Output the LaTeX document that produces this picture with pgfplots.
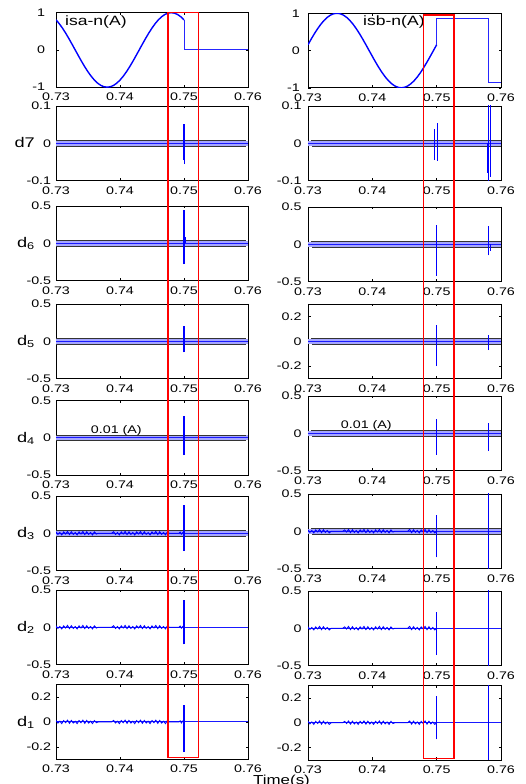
\documentclass[border=0pt]{standalone}
\usepackage{fontspec}
\setmainfont{Liberation Sans}[FakeStretch=1.3]
\usepackage{pgfplots}
\usepackage{pgfplotstable}
\pgfplotsset{compat=1.18}

% phase currents (first 20 ms window, sampled every 0.5 ms)
\pgfplotstableread[row sep=\\]{
t a b\\
0.7300 0.809 0.156\\ 0.7305 0.707 0.309\\ 0.7310 0.588 0.454\\ 0.7315 0.454 0.588\\
0.7320 0.309 0.707\\ 0.7325 0.156 0.809\\ 0.7330 0 0.891\\ 0.7335 -0.156 0.951\\
0.7340 -0.309 0.988\\ 0.7345 -0.454 1\\ 0.7350 -0.588 0.988\\ 0.7355 -0.707 0.951\\
0.7360 -0.809 0.891\\ 0.7365 -0.891 0.809\\ 0.7370 -0.951 0.707\\ 0.7375 -0.988 0.588\\
0.7380 -1 0.454\\ 0.7385 -0.988 0.309\\ 0.7390 -0.951 0.156\\ 0.7395 -0.891 0\\
0.7400 -0.809 -0.156\\ 0.7405 -0.707 -0.309\\ 0.7410 -0.588 -0.454\\ 0.7415 -0.454 -0.588\\
0.7420 -0.309 -0.707\\ 0.7425 -0.156 -0.809\\ 0.7430 0 -0.891\\ 0.7435 0.156 -0.951\\
0.7440 0.309 -0.988\\ 0.7445 0.454 -1\\ 0.7450 0.588 -0.988\\ 0.7455 0.707 -0.951\\
0.7460 0.809 -0.891\\ 0.7465 0.891 -0.809\\ 0.7470 0.951 -0.707\\ 0.7475 0.988 -0.588\\
0.7480 1 -0.454\\ 0.7485 0.988 -0.309\\ 0.7490 0.951 -0.156\\ 0.7495 0.891 0\\
0.7500 0.809 0.156\\
}\wave

% small detail noise, h = panels of +-0.5, s = panels of +-0.3
\pgfplotstableread[row sep=\\]{
t h s\\
0.7300 0.020 0.012\\ 0.7303 -0.015 -0.009\\ 0.7306 0.010 0.006\\ 0.7309 -0.022 -0.013\\
0.7312 0.018 0.011\\ 0.7315 -0.010 -0.006\\ 0.7318 0.024 0.014\\ 0.7321 -0.018 -0.011\\
0.7324 0.020 0.012\\ 0.7327 -0.015 -0.009\\ 0.7330 0.010 0.006\\ 0.7333 -0.022 -0.013\\
0.7336 0.018 0.011\\ 0.7339 -0.010 -0.006\\ 0.7342 0.024 0.014\\ 0.7345 -0.018 -0.011\\
0.7348 0.020 0.012\\ 0.7351 -0.015 -0.009\\ 0.7354 0.010 0.006\\ 0.7357 -0.022 -0.013\\
0.7360 0.018 0.011\\ 0.7363 -0.010 -0.006\\ 0.7366 0 0\\ 0.7387 0 0\\
0.7390 0.020 0.012\\ 0.7393 -0.015 -0.009\\ 0.7396 0.010 0.006\\ 0.7399 -0.022 -0.013\\
0.7402 0.018 0.011\\ 0.7405 -0.010 -0.006\\ 0.7408 0.024 0.014\\ 0.7411 -0.018 -0.011\\
0.7414 0.020 0.012\\ 0.7417 -0.015 -0.009\\ 0.7420 0.010 0.006\\ 0.7423 -0.022 -0.013\\
0.7426 0.018 0.011\\ 0.7429 -0.010 -0.006\\ 0.7432 0.024 0.014\\ 0.7435 -0.018 -0.011\\
0.7438 0.020 0.012\\ 0.7441 -0.015 -0.009\\ 0.7444 0.010 0.006\\ 0.7447 -0.022 -0.013\\
0.7450 0.018 0.011\\ 0.7453 -0.010 -0.006\\ 0.7456 0.024 0.014\\ 0.7459 -0.018 -0.011\\
0.7462 0.020 0.012\\ 0.7465 -0.015 -0.009\\ 0.7468 0.010 0.006\\ 0.7471 -0.022 -0.013\\
0.7474 0.018 0.011\\ 0.7477 0 0\\ 0.7492 0 0\\
0.7494 0.015 0.009\\ 0.7496 -0.012 -0.008\\ 0.7498 0.010 0.007\\ 0.7500 0 0\\
}\noiseL

\pgfplotstableread[row sep=\\]{
t h s\\
0.7300 0.020 0.012\\ 0.7303 -0.015 -0.009\\ 0.7306 0.010 0.006\\ 0.7309 -0.022 -0.013\\
0.7312 0.018 0.011\\ 0.7315 -0.010 -0.006\\ 0.7318 0.024 0.014\\ 0.7321 -0.018 -0.011\\
0.7324 0.020 0.012\\ 0.7327 -0.015 -0.009\\ 0.7330 0.010 0.006\\ 0.7333 -0.022 -0.013\\
0.7336 0 0\\ 0.7354 0 0\\
0.7357 0.018 0.011\\ 0.7360 -0.010 -0.006\\ 0.7363 0.024 0.014\\ 0.7366 -0.018 -0.011\\
0.7369 0.020 0.012\\ 0.7372 -0.015 -0.009\\ 0.7375 0.010 0.006\\ 0.7378 -0.022 -0.013\\
0.7381 0.018 0.011\\ 0.7384 -0.010 -0.006\\ 0.7387 0.024 0.014\\ 0.7390 -0.018 -0.011\\
0.7393 0.020 0.012\\ 0.7396 -0.015 -0.009\\ 0.7399 0.010 0.006\\ 0.7402 -0.022 -0.013\\
0.7405 0.018 0.011\\ 0.7408 -0.010 -0.006\\ 0.7411 0.024 0.014\\ 0.7414 -0.018 -0.011\\
0.7417 0.020 0.012\\ 0.7420 -0.015 -0.009\\ 0.7423 0.010 0.006\\ 0.7426 -0.022 -0.013\\
0.7429 0.018 0.011\\ 0.7432 -0.010 -0.006\\ 0.7435 0 0\\ 0.7455 0 0\\
0.7458 0.024 0.014\\ 0.7461 -0.018 -0.011\\ 0.7464 0.020 0.012\\ 0.7467 -0.015 -0.009\\
0.7470 0.010 0.006\\ 0.7473 -0.022 -0.013\\ 0.7476 0.018 0.011\\ 0.7479 -0.010 -0.006\\
0.7482 0.024 0.014\\ 0.7485 -0.018 -0.011\\ 0.7488 0.020 0.012\\ 0.7491 -0.015 -0.009\\
0.7494 0.010 0.006\\ 0.7497 -0.022 -0.013\\ 0.7500 0 0\\
}\noiseR

\newcommand{\zL}{0\hspace{6pt}}
\newcommand{\zR}{0\hspace{3pt}}

\pgfplotsset{
  panel/.style={anchor=north west, scale only axis, height=74.5pt,
    xmin=0.73, xmax=0.76, xtick={0.73,0.74,0.75,0.76},
    xticklabels={0.73,0.74,0.75,0.76},
    tick align=inside, major tick length=2.5pt,
    tick style={black, line width=0.5pt},
    axis line style={black, line width=0.9pt},
    tick label style={font=\fontsize{11}{12}\selectfont},
    xticklabel style={yshift=-2.5pt},
    ylabel style={rotate=-90, at={(rel axis cs:0,0.5)}, anchor=base east,
      xshift=-21pt, yshift=-4.5pt, inner sep=0pt, font=\fontsize{14}{16}\selectfont}},
  L/.style={panel, width=192pt, yticklabel style={xshift=-1.3pt}},
  R/.style={panel, width=193pt, yticklabel style={xshift=-3pt}},
  yone/.style={ymin=-1, ymax=1, ytick={-1,0,1}, yticklabels={-1,0,1}},
  ypt1/.style={ymin=-0.1, ymax=0.1, ytick={-0.1,0,0.1}, yticklabels={-0.1,#1,0.1}},
  ypt5/.style={ymin=-0.5, ymax=0.5, ytick={-0.5,0,0.5}, yticklabels={-0.5,#1,0.5}},
  ypt3/.style={ymin=-0.3, ymax=0.3, ytick={-0.2,0,0.2}, yticklabels={-0.2,#1,0.2}},
  band/.style={blue!35, line width=5pt},
  thr/.style={black!80, line width=0.6pt},
  zl/.style={blue!90, line width=1pt},
  spk/.style={blue, line width=1.1pt},
  nz/.style={blue, line width=0.9pt},
}

\begin{document}
\begin{tikzpicture}
\useasboundingbox (0pt,0pt) rectangle (526pt,784pt);

% ---------------- left column ----------------
\begin{axis}[L, yone, at={(56pt,771.3pt)}, yticklabel style={xshift=-6pt}]
  \addplot[blue, line width=1.4pt] table[x=t, y=a] {\wave};
  \addplot[blue!85, line width=1pt] coordinates {(0.75,0.809) (0.75,0) (0.76,0)};
  \node[anchor=base west, inner sep=0pt, xshift=9pt, yshift=-12.8pt,
    font=\fontsize{13.5}{15}\selectfont] at (rel axis cs:0,1) {isa-n(A)};
  \coordinate (LT) at (axis cs:0.7475,1);
\end{axis}

\begin{axis}[L, ypt1=\zL, at={(56pt,678pt)}, ylabel={d7}]
  \addplot[band] coordinates {(0.73,0) (0.76,0)};
  \addplot[thr] coordinates {(0.73,0.007) (0.7597,0.007)};
  \addplot[thr] coordinates {(0.73,-0.007) (0.7597,-0.007)};
  \addplot[zl] coordinates {(0.73,0) (0.76,0)};
  \addplot[spk] coordinates {(0.7499,-0.045) (0.7499,0.051)};
  \addplot[spk] coordinates {(0.7501,-0.056) (0.7501,0.051)};
\end{axis}

\begin{axis}[L, ypt5=\zL, at={(56pt,578pt)}, ylabel={d\textsubscript{6}}]
  \addplot[band] coordinates {(0.73,0) (0.76,0)};
  \addplot[thr] coordinates {(0.73,0.035) (0.7597,0.035)};
  \addplot[thr] coordinates {(0.73,-0.035) (0.7597,-0.035)};
  \addplot[zl] coordinates {(0.73,0) (0.76,0)};
  \addplot[spk] coordinates {(0.75,-0.28) (0.75,0.445)};
  \addplot[spk] coordinates {(0.7502,0) (0.7502,0.08)};
\end{axis}

\begin{axis}[L, ypt5=\zL, at={(56pt,480pt)}, ylabel={d\textsubscript{5}}]
  \addplot[band] coordinates {(0.73,0) (0.76,0)};
  \addplot[thr] coordinates {(0.73,0.035) (0.7597,0.035)};
  \addplot[thr] coordinates {(0.73,-0.035) (0.7597,-0.035)};
  \addplot[zl] coordinates {(0.73,0) (0.76,0)};
  \addplot[spk] coordinates {(0.75,-0.15) (0.75,0.21)};
\end{axis}

\begin{axis}[L, ypt5=\zL, at={(56pt,383.3pt)}, ylabel={d\textsubscript{4}}]
  \addplot[band] coordinates {(0.73,0) (0.76,0)};
  \addplot[thr] coordinates {(0.73,0.035) (0.7597,0.035)};
  \addplot[thr] coordinates {(0.73,-0.035) (0.7597,-0.035)};
  \addplot[zl] coordinates {(0.73,0) (0.76,0)};
  \addplot[spk] coordinates {(0.75,-0.23) (0.75,0.29)};
  \node[anchor=base west, inner sep=0pt, font=\fontsize{11}{12}\selectfont]
    at (axis cs:0.73542,0.059) {0.01 (A)};
\end{axis}

\begin{axis}[L, ypt5=\zL, at={(56pt,288pt)}, ylabel={d\textsubscript{3}}]
  \addplot[band] coordinates {(0.73,0) (0.76,0)};
  \addplot[thr] coordinates {(0.73,0.035) (0.7597,0.035)};
  \addplot[thr] coordinates {(0.73,-0.035) (0.7597,-0.035)};
  \addplot[zl] coordinates {(0.73,0) (0.76,0)};
  \addplot[nz] table[x=t, y=h] {\noiseL};
  \addplot[spk] coordinates {(0.75,-0.24) (0.75,0.38)};
\end{axis}

\begin{axis}[L, ypt5=\zL, at={(56pt,194pt)}, ylabel={d\textsubscript{2}}]
  \addplot[zl] coordinates {(0.73,0) (0.76,0)};
  \addplot[nz] table[x=t, y=h] {\noiseL};
  \addplot[spk] coordinates {(0.75,-0.23) (0.75,0.36)};
\end{axis}

\begin{axis}[L, ypt3=\zL, at={(56pt,99.3pt)}, ylabel={d\textsubscript{1}}]
  \addplot[zl] coordinates {(0.73,0) (0.76,0)};
  \addplot[nz] table[x=t, y=s] {\noiseL};
  \addplot[spk] coordinates {(0.75,-0.243) (0.75,0.135)};
  \coordinate (LB) at (axis cs:0.7523,-0.287);
\end{axis}

% ---------------- right column ----------------
\begin{axis}[R, yone, at={(308pt,770.7pt)}, yticklabel style={xshift=-1.6pt}]
  \addplot[blue, line width=1.4pt] table[x=t, y=b] {\wave};
  \addplot[blue!85, line width=1pt] coordinates {(0.75,0.156) (0.75,0.85) (0.7581,0.85) (0.7581,-0.85) (0.76,-0.85)};
  \node[anchor=base west, inner sep=0pt, xshift=55pt, yshift=-12pt,
    font=\fontsize{13.5}{15}\selectfont] at (rel axis cs:0,1) {isb-n(A)};
  \coordinate (RT) at (axis cs:0.7479,0.954);
\end{axis}

\begin{axis}[R, ypt1=\zR, at={(308pt,678pt)}]
  \addplot[band] coordinates {(0.73,0) (0.76,0)};
  \addplot[thr] coordinates {(0.7304,0.007) (0.76,0.007)};
  \addplot[thr] coordinates {(0.7306,-0.007) (0.76,-0.007)};
  \addplot[zl] coordinates {(0.73,0) (0.76,0)};
  \addplot[spk] coordinates {(0.7497,-0.045) (0.7497,0.039)};
  \addplot[spk] coordinates {(0.7501,-0.047) (0.7501,0.053)};
  \addplot[spk] coordinates {(0.7579,-0.079) (0.7579,0)};
  \addplot[spk] coordinates {(0.7581,-0.11) (0.7581,0.11)};
  \addplot[spk] coordinates {(0.7584,-0.09) (0.7584,0.11)};
\end{axis}

\begin{axis}[R, ypt5=\zR, at={(308pt,577pt)}]
  \addplot[band] coordinates {(0.73,0) (0.76,0)};
  \addplot[thr] coordinates {(0.7304,0.035) (0.76,0.035)};
  \addplot[thr] coordinates {(0.7306,-0.035) (0.76,-0.035)};
  \addplot[zl] coordinates {(0.73,0) (0.76,0)};
  \addplot[spk] coordinates {(0.75,-0.42) (0.75,0.26)};
  \addplot[spk] coordinates {(0.7581,-0.15) (0.7581,0.25)};
  \addplot[spk] coordinates {(0.7584,-0.09) (0.7584,0)};
\end{axis}

\begin{axis}[R, ypt3=\zR, at={(308pt,480pt)}]
  \addplot[band] coordinates {(0.73,0) (0.76,0)};
  \addplot[thr] coordinates {(0.7304,0.021) (0.76,0.021)};
  \addplot[thr] coordinates {(0.7306,-0.021) (0.76,-0.021)};
  \addplot[zl] coordinates {(0.73,0) (0.76,0)};
  \addplot[spk] coordinates {(0.75,-0.2) (0.75,0.134)};
  \addplot[spk] coordinates {(0.7581,-0.072) (0.7581,0.054)};
\end{axis}

\begin{axis}[R, ypt5=\zR, at={(308pt,388pt)}]
  \addplot[band] coordinates {(0.73,0) (0.76,0)};
  \addplot[thr] coordinates {(0.7304,0.035) (0.76,0.035)};
  \addplot[thr] coordinates {(0.7306,-0.035) (0.76,-0.035)};
  \addplot[zl] coordinates {(0.73,0) (0.76,0)};
  \addplot[spk] coordinates {(0.75,-0.29) (0.75,0.19)};
  \addplot[spk] coordinates {(0.7581,-0.24) (0.7581,0.14)};
  \node[anchor=base west, inner sep=0pt, font=\fontsize{11}{12}\selectfont]
    at (axis cs:0.73508,0.059) {0.01 (A)};
\end{axis}

\begin{axis}[R, ypt5=\zR, at={(308pt,290pt)}]
  \addplot[band] coordinates {(0.73,0) (0.76,0)};
  \addplot[thr] coordinates {(0.7304,0.035) (0.76,0.035)};
  \addplot[thr] coordinates {(0.7306,-0.035) (0.76,-0.035)};
  \addplot[zl] coordinates {(0.73,0) (0.76,0)};
  \addplot[nz] table[x=t, y=h] {\noiseR};
  \addplot[spk] coordinates {(0.75,-0.35) (0.75,0.22)};
  \addplot[spk, line width=1.3pt] coordinates {(0.7581,-0.6) (0.7581,0.6)};
\end{axis}

\begin{axis}[R, ypt5=\zR, at={(308pt,193pt)}]
  \addplot[zl] coordinates {(0.73,0) (0.76,0)};
  \addplot[nz] table[x=t, y=h] {\noiseR};
  \addplot[spk] coordinates {(0.75,-0.36) (0.75,0.22)};
  \addplot[spk, line width=1.3pt] coordinates {(0.7581,-0.6) (0.7581,0.6)};
\end{axis}

\begin{axis}[R, ypt3=\zR, at={(308pt,98.5pt)}]
  \addplot[zl] coordinates {(0.73,0) (0.76,0)};
  \addplot[nz] table[x=t, y=s] {\noiseR};
  \addplot[spk] coordinates {(0.75,-0.134) (0.75,0.215)};
  \addplot[spk, line width=1.3pt] coordinates {(0.7581,-0.4) (0.7581,0.4)};
  \coordinate (RB) at (axis cs:0.7527,-0.289);
\end{axis}

% highlighted window
\draw[red, line width=1.2pt] (LT) rectangle (LB);
\draw[red, line width=1.2pt] (RT) rectangle (RB);

\node[anchor=base west, inner sep=0pt, font=\fontsize{13}{15}\selectfont]
  at (253pt,-0.3pt) {Time(s)};
\end{tikzpicture}
\end{document}
